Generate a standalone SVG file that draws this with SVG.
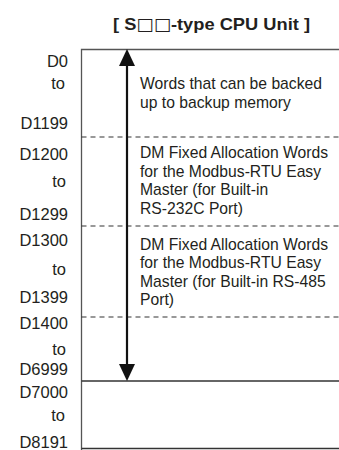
<svg xmlns="http://www.w3.org/2000/svg" width="339" height="450" viewBox="0 0 339 450">
<style>
text{font-family:"Liberation Sans",Arial,sans-serif;fill:#231f20}
.t{font-size:17px;font-weight:bold}
.sq{font-family:"DejaVu Sans",sans-serif;font-weight:bold}
.l{font-size:16.5px;text-anchor:end}
.d{font-size:15.7px}
.b{stroke:#555;stroke-width:1.3;fill:none}
.s{stroke:#333;stroke-width:1.3;fill:none}
.dash{stroke:#333;stroke-width:1.2;stroke-dasharray:5 4;fill:none}
</style>
<text class="t" x="113" y="30" textLength="197" lengthAdjust="spacingAndGlyphs">[ S<tspan class="sq">□□</tspan>-type CPU Unit ]</text>
<g id="frame">
<path class="b" d="M339 49.5H81.5V450"/>
<path class="s" d="M81.5 381H339"/>
<path class="s" d="M81.5 448.5H339"/>
<path class="dash" d="M81.5 137H339"/>
<path class="dash" d="M81.5 226H339"/>
<path class="dash" d="M81.5 317H339"/>
</g>
<g id="labels">
<text class="l" x="68" y="67">D0</text>
<text class="l" x="65" y="89">to</text>
<text class="l" x="68" y="128.5">D1199</text>
<text class="l" x="68" y="160">D1200</text>
<text class="l" x="66" y="187">to</text>
<text class="l" x="68" y="220">D1299</text>
<text class="l" x="68" y="246">D1300</text>
<text class="l" x="66" y="275">to</text>
<text class="l" x="68" y="303">D1399</text>
<text class="l" x="68" y="329">D1400</text>
<text class="l" x="66" y="355">to</text>
<text class="l" x="68" y="375">D6999</text>
<text class="l" x="68" y="398">D7000</text>
<text class="l" x="65" y="421">to</text>
<text class="l" x="68" y="448">D8191</text>
</g>
<g id="node-backup">
<text class="d" x="140" y="89">Words that can be backed</text>
<text class="d" x="140" y="108">up to backup memory</text>
</g>
<g id="node-232">
<text class="d" x="140" y="158">DM Fixed Allocation Words</text>
<text class="d" x="140" y="177">for the Modbus-RTU Easy</text>
<text class="d" x="140" y="195">Master (for Built-in</text>
<text class="d" x="140" y="214">RS-232C Port)</text>
</g>
<g id="node-485">
<text class="d" x="140" y="250">DM Fixed Allocation Words</text>
<text class="d" x="140" y="268">for the Modbus-RTU Easy</text>
<text class="d" x="140" y="287">Master (for Built-in RS-485</text>
<text class="d" x="140" y="305">Port)</text>
</g>
<g id="connectors">
<path d="M127 62V368" stroke="#111" stroke-width="2.2" fill="none"/>
<polygon points="127,49 119,66 135,66" fill="#111"/>
<polygon points="127,381 119,364 135,364" fill="#111"/>
</g>
</svg>
